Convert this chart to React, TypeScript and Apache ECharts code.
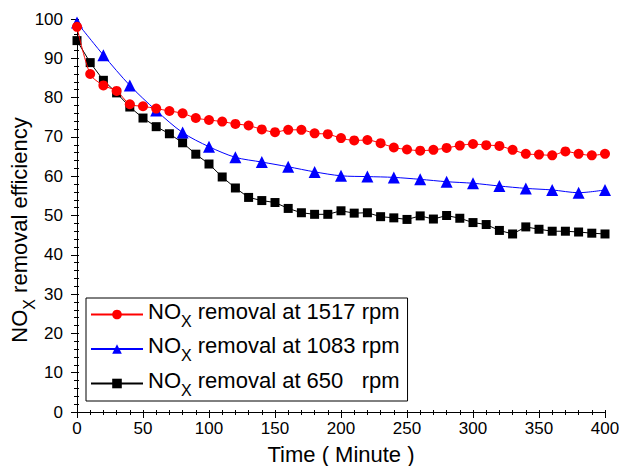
import React, { useEffect, useRef } from "react";
import * as echarts from "echarts";

const time10 = [0, 10, 20, 30, 40, 50, 60, 70, 80, 90, 100, 110, 120, 130, 140, 150, 160, 170, 180, 190, 200, 210, 220, 230, 240, 250, 260, 270, 280, 290, 300, 310, 320, 330, 340, 350, 360, 370, 380, 390, 400];
const time20 = [0, 20, 40, 60, 80, 100, 120, 140, 160, 180, 200, 220, 240, 260, 280, 300, 320, 340, 360, 380, 400];

const rpm1517 = [98, 86, 83.1, 81.7, 78.3, 77.8, 77.2, 76.6, 76.0, 74.8, 74.3, 73.9, 73.3, 72.9, 71.9, 71.2, 71.8, 71.8, 70.9, 70.7, 69.7, 69.1, 69.2, 68.4, 67.3, 66.8, 66.5, 66.7, 67.2, 67.8, 68.2, 67.9, 67.7, 66.7, 65.7, 65.5, 65.3, 66.3, 65.7, 65.3, 65.7];
const rpm1083 = [99.1, 90.8, 83.1, 76.7, 71.1, 67.5, 64.8, 63.6, 62.4, 61.1, 60.1, 59.9, 59.7, 59.2, 58.6, 58.2, 57.5, 56.9, 56.5, 55.8, 56.5];
const rpm650 = [94.5, 88.9, 84.4, 81.2, 77.6, 74.8, 72.6, 70.8, 68.5, 65.6, 63.1, 59.8, 57.0, 54.6, 53.8, 53.3, 51.8, 50.7, 50.3, 50.3, 51.2, 50.6, 50.7, 49.7, 49.4, 49.0, 49.9, 49.1, 50.0, 49.3, 48.2, 47.7, 46.2, 45.3, 47.1, 46.5, 46.0, 46.0, 45.8, 45.5, 45.3];

const seriesNames = ["NOx removal at 1517 rpm", "NOx removal at 1083 rpm", "NOx removal at 650 rpm"];
const legendTails = [" removal at 1517 rpm", " removal at 1083 rpm", " removal at 650\u00a0\u00a0\u00a0rpm"];

const xTitle = "Time ( Minute )";
const FONT = "'Liberation Sans', Arial, sans-serif";

const pairs = (xs: number[], ys: number[]) => xs.map((x, i) => [x, ys[i]]);

export default function App() {
  const ref = useRef<HTMLDivElement>(null);
  useEffect(() => {
    if (!ref.current) return;
    const chart = echarts.init(ref.current, undefined, { renderer: "svg" });
    const richBase = {
      n: { fontSize: 22, lineHeight: 29, verticalAlign: "top", fontFamily: FONT, color: "#000" },
      s: { fontSize: 16, verticalAlign: "bottom", fontFamily: FONT, color: "#000" },
    };
    const axisCommon = {
      axisLine: { show: true, lineStyle: { color: "#000", width: 1 } },
      splitLine: { show: false },
    };
    const tick = { show: true, inside: false, length: 6, lineStyle: { color: "#000" } };
    const minor = { show: true, splitNumber: 5, length: 3, lineStyle: { color: "#000" } };
    const tickM = { show: true, inside: false, length: 2, lineStyle: { color: "#000" } };
    const minorM = { show: true, splitNumber: 5, length: 2, lineStyle: { color: "#000" } };
    chart.setOption({
      animation: false,
      backgroundColor: "#fff",
      grid: { left: 77, right: 14, top: 19, bottom: 54, containLabel: false, outerBoundsMode: "none" },
      xAxis: [
        {
          type: "value",
          min: 0,
          max: 400,
          interval: 50,
          position: "bottom",
          ...axisCommon,
          axisTick: tick,
          minorTick: minor,
          axisLabel: { fontSize: 17, color: "#000", fontFamily: FONT, margin: 8 },
          name: xTitle,
          nameLocation: "middle",
          nameGap: 31,
          nameMoveOverlap: false,
          nameTextStyle: { fontSize: 22, color: "#000", fontFamily: FONT },
        },
        {
          type: "value",
          min: 0,
          max: 400,
          interval: 50,
          position: "top",
          ...axisCommon,
          axisTick: tickM,
          minorTick: minorM,
          axisLabel: { show: false },
        },
      ],
      yAxis: [
        {
          type: "value",
          min: 0,
          max: 100,
          interval: 10,
          position: "left",
          ...axisCommon,
          axisTick: tick,
          minorTick: minor,
          axisLabel: { fontSize: 17, color: "#000", fontFamily: FONT, margin: 14 },
          name: "{n|NO}{s|X}{n| removal efficiency}",
          nameLocation: "middle",
          nameGap: 40,
          nameMoveOverlap: false,
          nameTextStyle: { rich: richBase, padding: [0, 29, 0, 0] },
        },
        {
          type: "value",
          min: 0,
          max: 100,
          interval: 10,
          position: "right",
          ...axisCommon,
          axisTick: tickM,
          minorTick: minorM,
          axisLabel: { show: false },
        },
      ],
      legend: {
        show: true,
        orient: "vertical",
        left: 86,
        top: 298,
        padding: [2, 8, 3, 4],
        itemGap: 5.5,
        itemWidth: 52,
        itemHeight: 12,
        borderColor: "#000",
        borderWidth: 1,
        borderRadius: 0,
        backgroundColor: "#fff",
        data: seriesNames,
        formatter: (name: string) => {
          const i = seriesNames.indexOf(name);
          return "{n|NO}{s|X}{n|" + legendTails[i] + "}";
        },
        textStyle: { rich: richBase },
      },
      series: [
        {
          name: seriesNames[0],
          type: "line",
          data: pairs(time10, rpm1517),
          smooth: 0.3,
          symbol: "circle",
          symbolSize: 10,
          itemStyle: { color: "#ff0000" },
          lineStyle: { color: "#ff0000", width: 1 },
          z: 4,
        },
        {
          name: seriesNames[1],
          type: "line",
          data: pairs(time20, rpm1083),
          smooth: 0.3,
          symbol: "triangle",
          symbolSize: 12,
          itemStyle: { color: "#0000ff" },
          lineStyle: { color: "#0000ff", width: 1 },
          z: 3,
        },
        {
          name: seriesNames[2],
          type: "line",
          data: pairs(time10, rpm650),
          symbol: "rect",
          symbolSize: 9,
          itemStyle: { color: "#000000" },
          lineStyle: { color: "#000000", width: 1 },
          z: 2,
        },
      ],
    });
    return () => chart.dispose();
  }, []);
  return <div ref={ref} style={{ width: 619, height: 466, position: "absolute", left: 0, top: 0 }} />;
}
